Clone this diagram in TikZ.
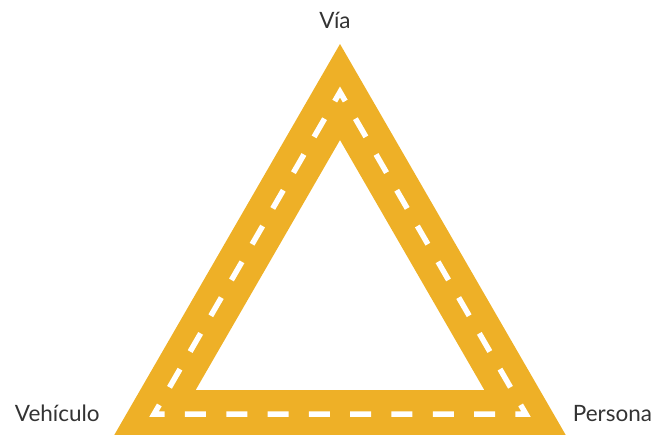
\documentclass[tikz,border=0pt]{standalone}
\usepackage{fontspec}
\setmainfont{Lato}
\definecolor{roadgold}{HTML}{EEB027}
\definecolor{labelgray}{HTML}{333333}
\begin{document}
\begin{tikzpicture}[x=1pt,y=-1pt,every node/.style={inner sep=0pt, outer sep=0pt, text=labelgray, font=\fontsize{22.5}{26}\selectfont}]
\useasboundingbox (0,0) rectangle (659,434);
\coordinate (top) at (340,92);
\coordinate (left) at (154.1,414);
\coordinate (right) at (525.9,414);
\coordinate (bottom) at (340,414);
\draw[roadgold, line width=48pt, line join=miter] (bottom) -- (right) -- (top) -- (left) -- cycle;
\draw[white, line width=5.5pt, line join=miter, dash pattern=on 21pt off 20.313pt, dash phase=31.15pt] (bottom) -- (right) -- (top) -- (left) -- cycle;
\node[anchor=base] (via) at (335,28) {Vía};
\node[anchor=base west] (vehiculo) at (15,421) {Vehículo};
\node[anchor=base east] (persona) at (652,421) {Persona};
\end{tikzpicture}
\end{document}
